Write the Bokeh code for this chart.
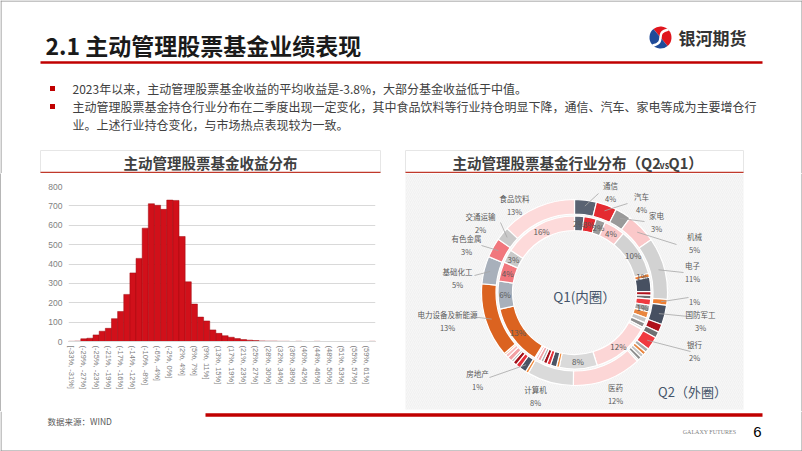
import math
import numpy as np
from bokeh.plotting import figure
from bokeh.models import Range1d, FixedTicker, ColumnDataSource
from bokeh.layouts import column, row
from bokeh.embed import file_html
from bokeh.resources import INLINE
from bokeh.core.properties import value

# ------------------------------------------------------------------ data
# histogram of fund returns (50 bins, every other bin labelled)
bin_labels = ["[-33%, -31%]", "(-29%, -27%]", "(-25%, -23%]", "(-21%, -19%]", "(-17%, -16%]",
              "(-14%, -12%]", "(-10%, -8%]", "(-6%, -4%]", "(-2%, 0%]", "(2%, 4%]", "(5%, 7%]",
              "(9%, 11%]", "(13%, 15%]", "(17%, 19%]", "(21%, 23%]", "(25%, 27%]", "(28%, 30%]",
              "(32%, 34%]", "(36%, 38%]", "(40%, 42%]", "(44%, 46%]", "(48%, 50%]", "(51%, 53%]",
              "(55%, 57%]", "(59%, 61%]"]
counts = [1, 2, 14, 17, 34, 53, 68, 118, 155, 243, 354, 429, 585, 711, 703, 682, 730, 728, 542, 308,
          193, 126, 106, 60, 42, 30, 22, 15, 10, 7, 5, 3, 2, 2, 1, 1, 0, 1, 0, 0,
          1, 0, 0, 0, 0, 0, 0, 0, 0, 1]
y_ticks = [0, 100, 200, 300, 400, 500, 600, 700, 800]

# industry allocation, Q2 (outer ring) and Q1 (inner ring), in %
industries = ["通信", "汽车", "家电", "机械", "电子", "传媒", "国防军工", "非银行金融", "煤炭", "银行",
              "石油石化", "轻工制造", "建筑", "钢铁", "综合", "医药", "计算机", "电力及公用事业", "房地产",
              "商贸零售", "消费者服务", "纺织服装", "农林牧渔", "建材", "综合金融", "电力设备及新能源",
              "基础化工", "有色金属", "交通运输", "食品饮料"]
q2_share = [3.8, 3.6, 2.8, 5.2, 10.8, 1.0, 3.4, 1.4, 1.1, 2.3,
            0.7, 0.6, 0.6, 0.6, 0.3, 12.0, 8.1, 0.5, 1.2,
            0.8, 0.7, 0.4, 0.8, 0.6, 0.3, 12.9,
            4.8, 3.4, 2.4, 12.9]
q1_share = [2.0, 2.6, 2.0, 4.4, 10.0, 0.8, 3.0, 0.8, 0.8, 1.3,
            1.4, 1.3, 1.1, 1.0, 0.5, 12.2, 8.0, 0.6, 1.3,
            0.8, 0.8, 0.6, 0.7, 0.5, 0.2, 12.8,
            5.9, 4.1, 2.8, 15.7]

# ------------------------------------------------------------------ styles
palette = ["#5A6372", "#E42A30", "#9A9A9A", "#FAC8C9", "#D2D2D2", "#EE7E32", "#475061", "#B0121C",
           "#6E7072", "#F03A40", "#A9A9A9", "#E9863F", "#C4C4C4", "#8E8E8E", "#DADADA", "#FCD6D6",
           "#DADADA", "#F08A3C", "#4A5464", "#E5303A", "#A3111A", "#B4B4B4", "#F3A0A4", "#F7BCBE",
           "#EB7A30", "#DB6320", "#A8B0BB", "#F1777D", "#C9C9C9", "#FDDADA"]
inner_labelled = ["通信", "汽车", "家电", "机械", "电子", "传媒", "石油石化", "医药", "计算机",
                  "电力设备及新能源", "基础化工", "有色金属", "交通运输", "食品饮料"]
# outer label layout: industry -> (shown name, text x, name y, leader end or None)
outer_layout = {
    "通信": ("通信", 610, 185, (598, 193)),
    "汽车": ("汽车", 641, 196, (627, 203)),
    "家电": ("家电", 656, 215, (644, 221)),
    "机械": ("机械", 694, 236, (676, 244)),
    "电子": ("电子", 692, 265, (683, 272)),
    "传媒": ("", 694, 288, (688, 297)),
    "国防军工": ("国防军工", 700, 314, (688, 316)),
    "银行": ("银行", 694, 344, (690, 351)),
    "医药": ("医药", 615, 387, None),
    "计算机": ("计算机", 535, 389, None),
    "房地产": ("房地产", 477, 373, (489, 377)),
    "电力设备及新能源": ("电力设备及新能源", 447, 314, (470, 316)),
    "基础化工": ("基础化工", 457, 271, (474, 275)),
    "有色金属": ("有色金属", 466, 238, (481, 245)),
    "交通运输": ("交通运输", 480, 216, (500, 222)),
    "食品饮料": ("食品饮料", 514, 198, None),
}

H = 451
W = 802
CJK = "Noto Sans CJK SC"
BORDER = "#8C8C8C"
RED = "#C00000"


def canvas(x0, x1, y0, y1):
    p = figure(width=x1 - x0, height=y1 - y0, x_range=Range1d(x0, x1), y_range=Range1d(H - y1, H - y0),
               output_backend="svg", toolbar_location=None, min_border=0,
               x_axis_type=None, y_axis_type=None, outline_line_color=None,
               background_fill_color="white", border_fill_color="white")
    p.frame_align = False
    return p


def txt(p, x, y, s, size, color="#404040", bold=False, align="left", baseline="middle", font=CJK):
    p.text(x=[x], y=[H - y], text=[s], text_font=value(font), text_font_size=f"{size}px",
           text_color=color, text_font_style="bold" if bold else "normal",
           text_align=align, text_baseline=baseline)


def seg(p, xs, ys, color, width):
    p.line(x=list(xs), y=[H - v for v in ys], line_color=color, line_width=width)


# ------------------------------------------------------------------ header
head = canvas(0, W, 0, 173)
seg(head, [0, W], [0.5, 0.5], BORDER, 1)
seg(head, [0.5, 0.5], [0, 173], BORDER, 1)
seg(head, [W - 0.5, W - 0.5], [0, 173], BORDER, 1)
txt(head, 45, 44, "2.1 主动管理股票基金业绩表现", 23, "#1A1A1A", bold=True)
seg(head, [40, 762], [62, 62], RED, 2.5)

# logo
lx, ly, lr = 660, 37, 11
head.wedge(x=[lx], y=[H - ly], radius=lr, start_angle=math.radians(-50), end_angle=math.radians(130),
           fill_color="#E0161E", line_color=None)
head.wedge(x=[lx], y=[H - ly], radius=lr, start_angle=math.radians(130), end_angle=math.radians(310),
           fill_color="#1F4B99", line_color=None)
head.bezier(x0=[lx - 8], y0=[H - (ly + 8)], x1=[lx + 8], y1=[H - (ly - 8)],
            cx0=[lx + 7], cy0=[H - (ly + 5)], cx1=[lx - 7], cy1=[H - (ly - 5)],
            line_color="white", line_width=2.5)
txt(head, 678, 37, "银河期货", 17, "#333333", bold=True)

# bullets
for yy in (88, 106):
    head.rect(x=[52], y=[H - yy], width=5, height=5, fill_color=RED, line_color=None)
txt(head, 72, 88, "2023年以来，主动管理股票基金收益的平均收益是-3.8%，大部分基金收益低于中值。", 12)
txt(head, 72, 106, "主动管理股票基金持仓行业分布在二季度出现一定变化，其中食品饮料等行业持仓明显下降，通信、汽车、家电等成为主要增仓行", 12)
txt(head, 72, 124, "业。上述行业持仓变化，与市场热点表现较为一致。", 12)

# panel title bars
for (l, r) in ((40, 380), (405, 743)):
    head.quad(left=[l], right=[r], top=[H - 150], bottom=[H - 172], fill_color="white",
              line_color="#E6E6E6", line_width=1)
    seg(head, [l, r], [172, 172], "#C0392B", 1.5)
txt(head, 210, 162, "主动管理股票基金收益分布", 14.5, "#404040", bold=True, align="center")
txt(head, 452, 162, "主动管理股票基金行业分布（Q2", 14.5, "#404040", bold=True)
txt(head, 659, 165, "vs", 9, "#404040", bold=True)
txt(head, 668, 162, "Q1）", 14.5, "#404040", bold=True)

# ------------------------------------------------------------------ left border strip
strip = canvas(0, 1, 173, 411)
strip.background_fill_color = BORDER
strip.border_fill_color = BORDER
strip.quad(left=[0], right=[1], top=[H - 173], bottom=[H - 411], fill_color=BORDER, line_color=None)

# ------------------------------------------------------------------ histogram
hist = figure(width=401, height=238, x_range=Range1d(-0.5, len(counts) - 0.5), y_range=Range1d(0, 800),
              output_backend="svg", toolbar_location=None,
              min_border_left=67, min_border_right=27, min_border_top=13, min_border_bottom=70,
              outline_line_color=None, background_fill_color="white", border_fill_color="white")
hist.frame_align = False
hist.vbar(x=list(range(len(counts))), top=counts, width=1.0, fill_color="#D1101A",
          line_color="#9E0B10", line_width=0.5)
hist.yaxis.ticker = FixedTicker(ticks=y_ticks)
hist.xaxis.ticker = FixedTicker(ticks=list(range(0, len(counts), 2)))
hist.xaxis.major_label_overrides = {2 * i: lab for i, lab in enumerate(bin_labels)}
hist.xaxis.major_label_orientation = -math.pi / 2
for ax in (hist.xaxis[0], hist.yaxis[0]):
    ax.major_tick_line_color = None
    ax.minor_tick_line_color = None
    ax.major_tick_out = 0
    ax.major_tick_in = 0
    ax.major_label_text_color = "#7F7F7F"
    ax.major_label_text_font = "Liberation Sans"
hist.yaxis.axis_line_color = None
hist.yaxis.major_label_text_font_size = "8.5px"
hist.yaxis.major_label_standoff = 6
hist.xaxis.axis_line_color = "#D9D9D9"
hist.xaxis.major_label_text_font_size = "7.5px"
hist.xaxis.major_label_standoff = 4
hist.xgrid.visible = False
hist.ygrid.grid_line_color = "#D9D9D9"

# ------------------------------------------------------------------ donut
donut = canvas(402, W, 173, 411)
seg(donut, [W - 0.5, W - 0.5], [173, 411], BORDER, 1)
donut.quad(left=[405], right=[743], top=[H - 173], bottom=[H - 409], fill_color="#F1F1F1",
           line_color=None, hatch_pattern="right_diagonal_line", hatch_color="#FFFFFF",
           hatch_alpha=0.7, hatch_scale=4, hatch_weight=0.6)

cx, cy = 574, 292


def ang(pct):
    return math.pi / 2 - 2 * math.pi * pct / 100.0


def ring(shares, r_in, r_out):
    ends = np.cumsum(shares)
    starts = np.concatenate([[0.0], ends[:-1]])
    src = ColumnDataSource(dict(x=[cx] * len(shares), y=[H - cy] * len(shares),
                                s=[ang(v) for v in starts], e=[ang(v) for v in ends], c=palette))
    donut.annular_wedge(x="x", y="y", inner_radius=r_in, outer_radius=r_out, start_angle="s",
                        end_angle="e", direction="clock", fill_color="c", line_color="white",
                        line_width=1.2, source=src)
    return (starts + ends) / 2.0


def polar(mid, r):
    a = 2 * math.pi * mid / 100.0
    return cx + r * math.sin(a), cy - r * math.cos(a)


mid2 = ring(q2_share, 78.5, 93)
mid1 = ring(q1_share, 62, 76.5)

for i, name in enumerate(industries):
    if name in inner_labelled:
        px, py = polar(mid1[i], 69.5)
        txt(donut, px, py, f"{round(q1_share[i])}%", 8, "#595959", align="center")
    if name in outer_layout:
        shown, tx, ty, end = outer_layout[name]
        if end is not None:
            sx, sy = polar(mid2[i], 87)
            seg(donut, [sx, end[0]], [sy, end[1]], "#A6A6A6", 0.8)
        if shown:
            txt(donut, tx, ty, shown, 7.5, "#595959", align="center")
        txt(donut, tx, ty + 12.5, f"{round(q2_share[i])}%", 7.5, "#595959", align="center")

txt(donut, 584, 295, "Q1(内圈）", 13.5, "#44546A", align="center")
txt(donut, 692, 391, "Q2（外圈）", 13, "#44546A", align="center")

# ------------------------------------------------------------------ footer
foot = canvas(0, W, 411, H)
seg(foot, [0.5, 0.5], [411, H], BORDER, 1)
seg(foot, [W - 0.5, W - 0.5], [411, H], BORDER, 1)
seg(foot, [0, W], [H - 0.5, H - 0.5], BORDER, 1)
seg(foot, [205, 762], [414.5, 414.5], RED, 3.5)
txt(foot, 47, 420, "数据来源：WIND", 8.5, "#595959")
txt(foot, 709, 431, "GALAXY FUTURES", 6, "#7F7F7F", align="center", font="Liberation Serif")
txt(foot, 757, 431, "6", 15, "#000000", align="center", font="Liberation Sans")

layout = column(head, row(strip, hist, donut), foot)
open("out.html", "w").write(file_html(layout, INLINE))
